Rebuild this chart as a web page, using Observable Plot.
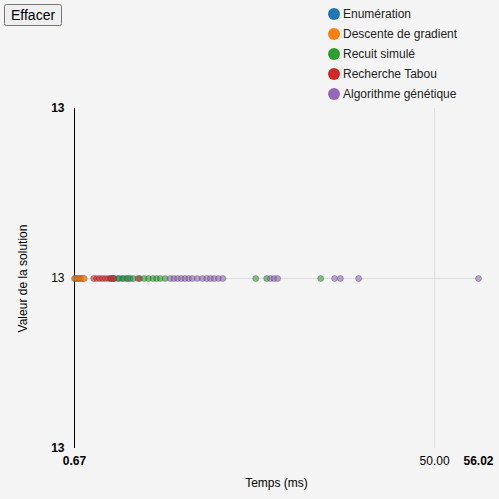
<!DOCTYPE html>
<html><head><meta charset="utf-8">
<script src="https://cdn.jsdelivr.net/npm/d3@7"></script>
<script src="https://cdn.jsdelivr.net/npm/@observablehq/plot@0.6"></script>
<style>
body{margin:0;background:#f4f4f4;font-family:Arial,"Liberation Sans",sans-serif;}
#wrap{position:relative;width:499px;height:499px;}
button{position:absolute;left:4px;top:4px;font:14px Arial,"Liberation Sans",sans-serif;padding:1px 5px;}
#legend{position:absolute;left:328px;top:4px;font-size:12px;color:#222;}
#legend div{height:20px;display:flex;align-items:center;}
#legend span{display:inline-block;width:12px;height:12px;border-radius:50%;margin-right:3px;}
</style></head><body>
<div id="wrap"><div id="chart"></div><button>Effacer</button><div id="legend"></div></div>
<script>
const algos = ["Enumération", "Descente de gradient", "Recuit simulé", "Recherche Tabou", "Algorithme génétique"];
const colors = ["#1f77b4", "#ff7f0e", "#2ca02c", "#d62728", "#9467bd"];
const enumTimes = [5.6, 6.1, 6.6, 7.2, 7.8, 8.3];
const descenteTimes = [0.67, 0.8, 1.0, 1.2, 1.4, 1.6, 1.8, 2.0];
const recuitTimes = [6.0, 6.8, 7.4, 8.0, 8.7, 9.6, 10.2, 10.8, 11.4, 11.9, 12.4, 13.1, 25.5, 27.0, 34.4];
const tabouTimes = [3.3, 3.7, 4.1, 4.5, 4.9, 5.3, 5.7, 6.0, 9.4];
const genetiqueTimes = [13.8, 14.3, 14.8, 15.3, 15.8, 16.3, 16.8, 17.5, 18.2, 18.8, 19.3, 19.8, 20.4, 21.0, 27.5, 28.0, 28.5, 36.3, 37.1, 39.6, 56.02];
const value = 13;
const xTicks = [0.67, 50, 56.02];

const series = [enumTimes, descenteTimes, recuitTimes, tabouTimes, genetiqueTimes];
const pts = series.flatMap((s, i) => s.map(t => ({algo: algos[i], t, v: value})));

const chart = Plot.plot({
  width: 499, height: 499,
  marginTop: 108, marginBottom: 51, marginLeft: 74, marginRight: 21,
  style: {background: "transparent", fontSize: "12px", fontFamily: "Arial, 'Liberation Sans', sans-serif"},
  x: {domain: [0.67, 56.02], ticks: xTicks, tickFormat: d3.format(".2f"), tickSize: 0, tickPadding: 8, label: "Temps (ms)", labelArrow: "none", labelAnchor: "center", labelOffset: 38},
  y: {domain: [12.5, 13.5], ticks: [12.5, 13, 13.5], tickFormat: () => "13", tickSize: 0, tickPadding: 10, label: "Valeur de la solution", labelArrow: "none", labelAnchor: "center", labelOffset: 56},
  color: {domain: algos, range: colors},
  marks: [
    Plot.gridX([50], {stroke: "#ddd", strokeOpacity: 1}),
    Plot.gridY([13], {stroke: "#ddd", strokeOpacity: 1}),
    Plot.ruleX([0.67], {stroke: "#000"}),
    Plot.dot(pts, {x: "t", y: "v", fill: "algo", r: 3, fillOpacity: 0.6, stroke: "#444", strokeOpacity: 0.45, strokeWidth: 0.8})
  ]
});
for (const sel of ["[aria-label='x-axis tick label']", "[aria-label='y-axis tick label']"]) {
  d3.select(chart).select(sel).selectAll("text")
    .attr("font-weight", (d, i, n) => (i === 0 || i === n.length - 1) ? "bold" : null);
}
document.getElementById("chart").append(chart);
d3.select("#legend").selectAll("div").data(algos).join("div")
  .html((d, i) => `<span style="background:${colors[i]}"></span>${d}`);
</script></body></html>
